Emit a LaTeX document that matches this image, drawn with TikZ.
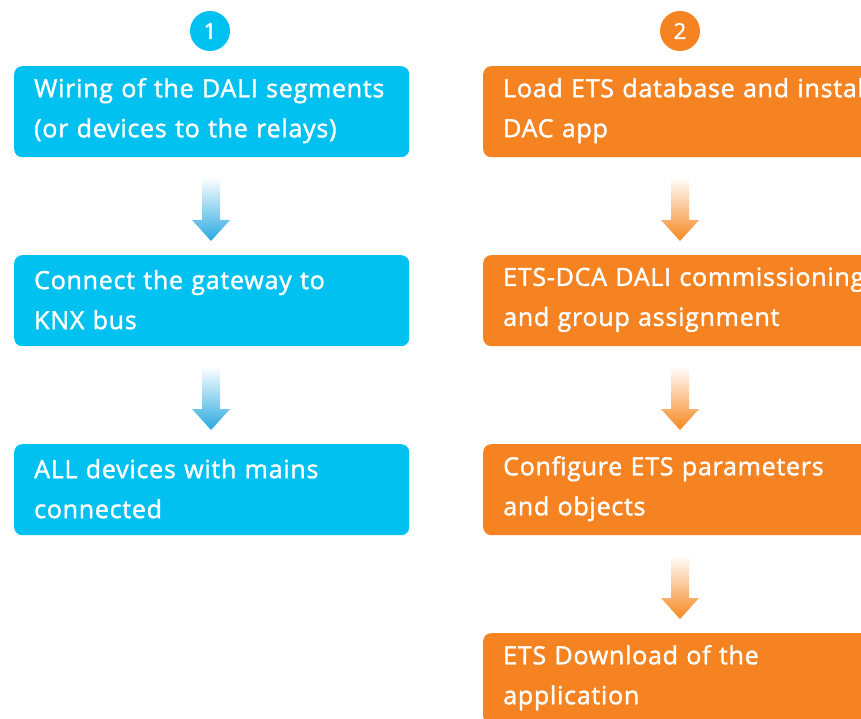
\documentclass[tikz,border=0pt]{standalone}
\usepackage{fontspec}
\setmainfont{Open Sans}[FakeBold=1.6, LetterSpace=3]
\usetikzlibrary{calc}
\definecolor{stepblue}{HTML}{00C1F0}
\definecolor{steporange}{HTML}{F58321}
\definecolor{arrowblue}{HTML}{2AA9E1}
\definecolor{arroworange}{HTML}{F6861F}
\tikzset{
  stepbox/.style={rounded corners=8pt, minimum height=91pt,
    anchor=north west, inner xsep=20pt, inner ysep=0pt, text=white,
    font=\fontsize{25}{40}\selectfont, align=left,
    execute at end node={\par\vspace{2pt}}},
  bluebox/.style={stepbox, fill=stepblue, text width=355pt},
  orangebox/.style={stepbox, fill=steporange, text width=430pt},
  numdot/.style={circle, minimum size=40pt, inner sep=0pt, text=white,
    font=\fontsize{22}{24}\selectfont},
}
% fat downward arrow with a gradient shaft between two boxes
\newcommand{\fatarrow}[4]{%
  \path ($(#1.south west)+(#4,20)$) coordinate (#1-top)
        ($(#2.north west)+(#4,-14)$) coordinate (#1-tip);
  \shade[top color=white, bottom color=#3]
    ($(#1-top)+(-9,0)$) -- ($(#1-top)+(9,0)$) -- ($(#1-tip)+(9,-21)$)
    -- ($(#1-tip)+(19,-21)$) -- (#1-tip) -- ($(#1-tip)+(-19,-21)$)
    -- ($(#1-tip)+(-9,-21)$) -- cycle;
}
\begin{document}
\begin{tikzpicture}[x=1pt, y=-1pt]
  \useasboundingbox (0,0) rectangle (861,719);
  \clip (0,0) rectangle (861,719);

  \node[numdot, fill=stepblue] (n1) at (210,31) {1};
  \node[numdot, fill=steporange] (n2) at (680,31) {2};

  \node[bluebox] (a1) at (14,66) {Wiring of the DALI segments\\(or devices to the relays)};
  \node[bluebox] (a2) at (14,255) {Connect the gateway to\\KNX bus};
  \node[bluebox] (a3) at (14,444) {ALL devices with mains\\connected};

  \node[orangebox] (b1) at (483,66) {Load ETS database and install\\DAC app};
  \node[orangebox] (b2) at (483,255) {ETS-DCA DALI commissioning\\and group assignment};
  \node[orangebox] (b3) at (483,444) {Configure ETS parameters\\and objects};
  \node[orangebox] (b4) at (483,633) {ETS Download of the\\application};

  \fatarrow{a1}{a2}{arrowblue}{197}
  \fatarrow{a2}{a3}{arrowblue}{197}
  \fatarrow{b1}{b2}{arroworange}{197}
  \fatarrow{b2}{b3}{arroworange}{197}
  \fatarrow{b3}{b4}{arroworange}{197}
\end{tikzpicture}
\end{document}
